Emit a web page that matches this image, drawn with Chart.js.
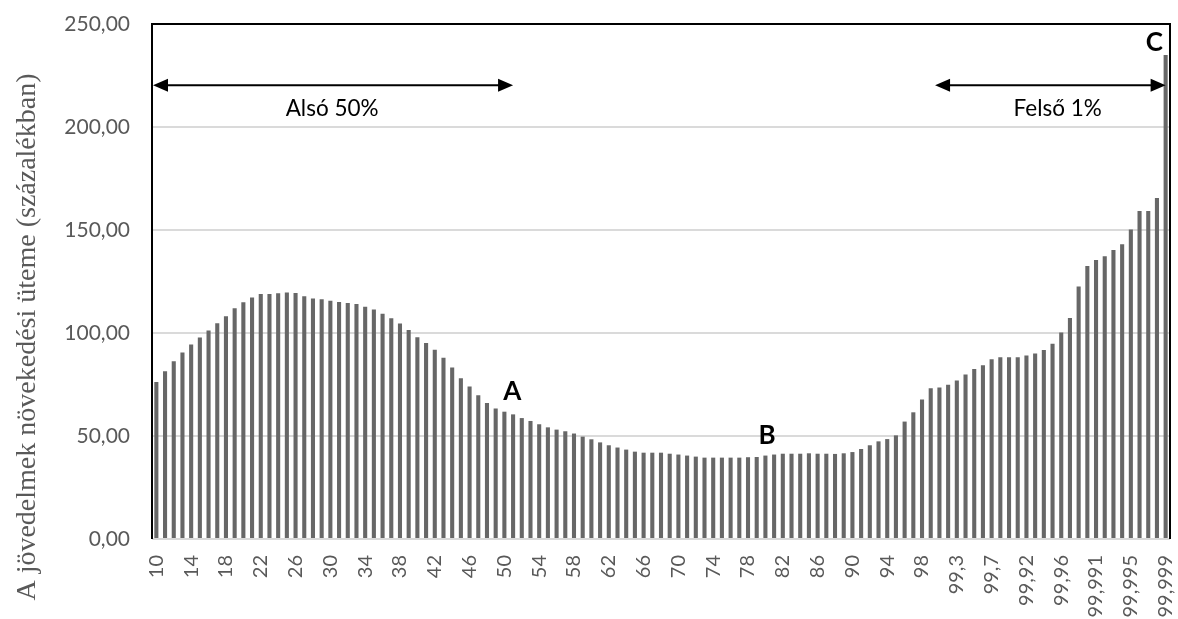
<!DOCTYPE html>
<html>
<head>
<meta charset="utf-8">
<script src="https://cdn.jsdelivr.net/npm/chart.js@4.4.1/dist/chart.umd.min.js"></script>
<style>
  html, body { margin: 0; padding: 0; background: #fff; }
  #wrap { width: 1178px; height: 619px; }
</style>
</head>
<body>
<div id="wrap"><canvas id="bar-chartcanvas" width="1178" height="619"></canvas></div>
<script>
// percentile categories (Hungarian decimal comma)
const percentiles = [
    '10', '11', '12', '13', '14', '15', '16', '17', '18', '19',
    '20', '21', '22', '23', '24', '25', '26', '27', '28', '29',
    '30', '31', '32', '33', '34', '35', '36', '37', '38', '39',
    '40', '41', '42', '43', '44', '45', '46', '47', '48', '49',
    '50', '51', '52', '53', '54', '55', '56', '57', '58', '59',
    '60', '61', '62', '63', '64', '65', '66', '67', '68', '69',
    '70', '71', '72', '73', '74', '75', '76', '77', '78', '79',
    '80', '81', '82', '83', '84', '85', '86', '87', '88', '89',
    '90', '91', '92', '93', '94', '95', '96', '97', '98', '99',
    '99,1', '99,2', '99,3', '99,4', '99,5', '99,6', '99,7', '99,8', '99,9',
    '99,91', '99,92', '99,93', '99,94', '99,95', '99,96', '99,97', '99,98', '99,99',
    '99,991', '99,992', '99,993', '99,994', '99,995', '99,996', '99,997', '99,998', '99,999'
];

// income growth rate, percent
const growth = [
    76.2, 81.4, 86.3, 90.5, 94.4, 97.8, 101.2, 104.7, 108.1, 112.0,
    114.9, 117.2, 118.9, 118.9, 119.3, 119.6, 119.4, 117.8, 116.7, 116.4,
    115.6, 115.0, 114.6, 114.1, 112.8, 111.4, 109.4, 107.1, 104.6, 101.5,
    97.9, 95.1, 91.9, 88.0, 83.3, 78.0, 74.0, 69.8, 66.0, 63.4,
    61.8, 60.5, 58.7, 57.3, 55.7, 54.2, 53.1, 52.3, 51.2, 49.7,
    48.4, 46.9, 45.5, 44.4, 43.4, 42.4, 41.9, 41.9, 41.9, 41.4,
    41.0, 40.5, 40.0, 39.5, 39.5, 39.5, 39.5, 39.5, 39.7, 39.8,
    40.5, 41.0, 41.4, 41.4, 41.4, 41.6, 41.4, 41.4, 41.3, 41.6,
    42.2, 43.7, 45.5, 47.4, 48.5, 50.3, 57.0, 61.5, 67.7, 73.2,
    73.6, 74.9, 76.9, 79.9, 82.5, 84.4, 87.2, 88.2, 88.2,
    88.2, 89.1, 90.1, 91.7, 94.8, 100.3, 107.3, 122.6, 132.5,
    135.4, 137.2, 140.3, 143.1, 150.2, 159.2, 159.2, 165.5, 234.9
];

const yTicks = [0, 50, 100, 150, 200, 250];
const yTitle = 'A jövedelmek növekedési üteme (százalékban)';

// range arrows: [from index, to index, label, label index]
const ranges = [
    [0, 41, 'Alsó 50%', 20.2],
    [89.5, 116, 'Felső 1%', 103.6]
];
// point markers: [label, index, value]
const markers = [
    ['A', 40.9, 71.4],
    ['B', 70.2, 50.4],
    ['C', 114.7, 241.2]
];

function arrowHead(ctx, x, y, dir) {
    ctx.beginPath();
    ctx.moveTo(x, y);
    ctx.lineTo(x - dir * 15, y - 6.5);
    ctx.lineTo(x - dir * 15, y + 6.5);
    ctx.closePath();
    ctx.fill();
}

const decorations = {
    id: 'decorations',
    afterDatasetsDraw(chart) {
        const { ctx, chartArea: a, scales: { x, y } } = chart;
        ctx.save();
        // gray base line
        ctx.strokeStyle = '#d9d9d9';
        ctx.lineWidth = 2;
        ctx.beginPath();
        ctx.moveTo(a.left, a.bottom);
        ctx.lineTo(a.right, a.bottom);
        ctx.stroke();
        // black frame left/top/right
        ctx.strokeStyle = '#000';
        ctx.lineWidth = 2;
        ctx.beginPath();
        ctx.moveTo(a.left, a.bottom);
        ctx.lineTo(a.left, a.top);
        ctx.lineTo(a.right, a.top);
        ctx.lineTo(a.right, a.bottom);
        ctx.stroke();

        const ay = y.getPixelForValue(220.3);
        ctx.fillStyle = '#000';
        ctx.font = '22.5px Lato';
        ctx.textAlign = 'center';
        ctx.textBaseline = 'middle';
        ranges.forEach(([i0, i1, label, li]) => {
            const x0 = i0 === 0 ? a.left + 1 : x.getPixelForValue(i0);
            const x1 = x.getPixelForValue(i1);
            ctx.beginPath();
            ctx.moveTo(x0 + 10, ay);
            ctx.lineTo(x1 - 10, ay);
            ctx.lineWidth = 2;
            ctx.stroke();
            arrowHead(ctx, x0, ay, -1);
            arrowHead(ctx, x1, ay, 1);
            ctx.fillText(label, x.getPixelForValue(li), y.getPixelForValue(208.7));
        });

        ctx.font = 'bold 26px Lato';
        markers.forEach(([label, i, v]) => {
            ctx.fillText(label, x.getPixelForValue(i), y.getPixelForValue(v));
        });

        // y axis title, Times-like serif
        ctx.fillStyle = '#595959';
        ctx.font = '28px "Liberation Serif"';
        ctx.translate(28, 337);
        ctx.rotate(-Math.PI / 2);
        ctx.fillText(yTitle, 0, 0);
        ctx.restore();
    }
};

const ctx = document.getElementById('bar-chartcanvas');
const myChart = new Chart(ctx, {
    type: 'bar',
    data: {
        labels: percentiles,
        datasets: [{
            data: growth,
            backgroundColor: '#676767',
            barPercentage: 0.47,
            categoryPercentage: 1.0,
        }]
    },
    options: {
        responsive: false,
        animation: false,
        layout: {
            padding: { top: 24, right: 8, left: 0, bottom: 0 }
        },
        plugins: {
            legend: { display: false },
            tooltip: { enabled: false },
        },
        scales: {
            x: {
                grid: { display: false },
                border: { display: false },
                afterFit(scale) {
                    scale.height = 80;
                    scale.paddingLeft = 0;
                    scale.paddingRight = 0;
                },
                ticks: {
                    autoSkip: false,
                    minRotation: 90,
                    maxRotation: 90,
                    padding: 8,
                    color: '#595959',
                    font: { family: 'Lato', size: 20 },
                    callback(value, index) {
                        return index % 4 === 0 ? percentiles[index] : '';
                    }
                }
            },
            y: {
                min: 0,
                max: 250,
                afterBuildTicks(scale) {
                    scale.ticks = yTicks.map(v => ({ value: v }));
                },
                afterFit(scale) {
                    scale.width = 152;
                    scale.paddingTop = 0;
                    scale.paddingBottom = 0;
                },
                grid: {
                    color: '#dadada',
                    lineWidth: 2,
                    drawTicks: false,
                },
                border: { display: false },
                ticks: {
                    padding: 22,
                    color: '#595959',
                    font: { family: 'Lato', size: 21 },
                    callback(value) {
                        return value.toFixed(2).replace('.', ',');
                    }
                }
            }
        }
    },
    plugins: [decorations]
});
</script>
</body>
</html>
